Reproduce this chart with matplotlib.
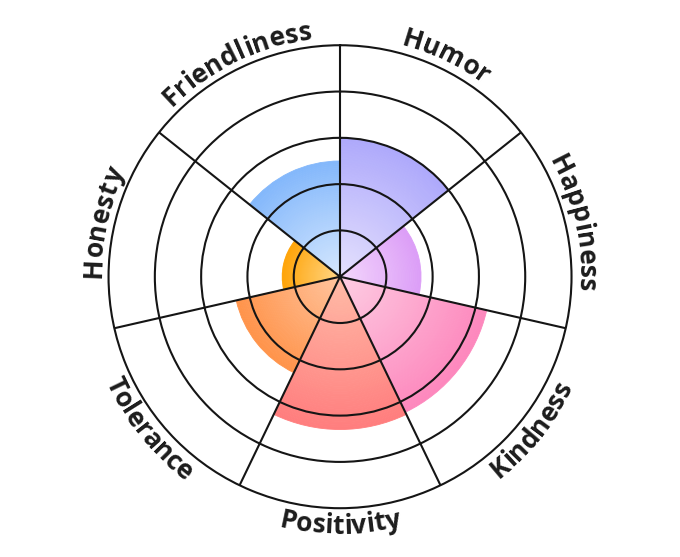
import numpy as np
import matplotlib
matplotlib.use('Agg')
import matplotlib.pyplot as plt
from matplotlib.colors import to_rgb
from matplotlib.font_manager import FontProperties, findfont, get_font

# data
categories = ['Humor', 'Happiness', 'Kindness', 'Positivity', 'Tolerance', 'Honesty', 'Friendliness']
values = [3.0, 1.75, 3.25, 3.3, 2.3, 1.25, 2.5]
edge_colors = ['#aea9fb', '#dc9ef7', '#fd88bd', '#ff7e7e', '#ff944b', '#ffa50a', '#84b8fb']
center_colors = ['#e5e1fd', '#f4d8fc', '#fdcde3', '#ffbba7', '#ffc49e', '#ffd788', '#d6e8fe']
rings = [1, 2, 3, 4, 5]

DPI = 100
R_PX = 231.4  # outer ring radius in pixels
fig = plt.figure(figsize=(6.8, 5.57), dpi=DPI)
ax = fig.add_axes([0.1596, 0.0876, 0.6809, 0.8312], projection='polar')
ax.set_theta_zero_location('N')
ax.set_theta_direction(-1)
ax.set_facecolor('none')

n = len(categories)
width = 2 * np.pi / n
starts = np.arange(n) * width
vals = np.array(values)

# radial gradient: stack of thin annular bars, light at centre -> saturated at edge
steps = 60
c0 = np.array([to_rgb(c) for c in center_colors])
c1 = np.array([to_rgb(c) for c in edge_colors])
for k in range(steps):
    t = k / (steps - 1)
    cols = c0 * (1 - t) + c1 * t
    ax.bar(starts, vals / steps, width=width, bottom=vals * k / steps, align='edge',
           color=cols, edgecolor=cols, linewidth=0.6, zorder=1)

# grid
ax.set_ylim(0, rings[-1])
ax.set_yticks(rings[:-1])
ax.set_xticks(starts)
ax.set_xticklabels([])
ax.set_yticklabels([])
ax.tick_params(length=0)
ax.set_axisbelow(False)
ax.grid(True, color='#151515', linewidth=1.5)
ax.spines['polar'].set_color('#151515')
ax.spines['polar'].set_linewidth(1.5)

# curved labels, one character at a time
FS = 19
fp = FontProperties(family='Open Sans', weight='bold', size=FS)
font = get_font(findfont(fp))
font.set_size(FS, DPI)


def advances(word):
    # horizontal advance of each glyph in pixels
    return [font.load_char(ord(ch)).linearHoriAdvance / 65536 for ch in word]


px_per_unit = R_PX / rings[-1]
for i, word in enumerate(categories):
    mid = starts[i] + width / 2
    mid_deg = np.degrees(mid)
    flip = 90 < mid_deg < 270
    r_b = (257.0 if flip else 239.0) / px_per_unit
    r_px = r_b * px_per_unit
    adv = advances(word)
    total = sum(adv)
    pos = 0.0
    for j, ch in enumerate(word):
        s = pos + adv[j] / 2 - total / 2
        pos += adv[j]
        if flip:
            phi = mid - s / r_px
            rot = 180 - np.degrees(phi)
        else:
            phi = mid + s / r_px
            rot = -np.degrees(phi)
        ax.text(phi, r_b, ch, rotation=rot, rotation_mode='anchor',
                ha='center', va='baseline', fontproperties=fp, color='#1c1c1c')

fig.savefig('out.png', dpi=DPI)
